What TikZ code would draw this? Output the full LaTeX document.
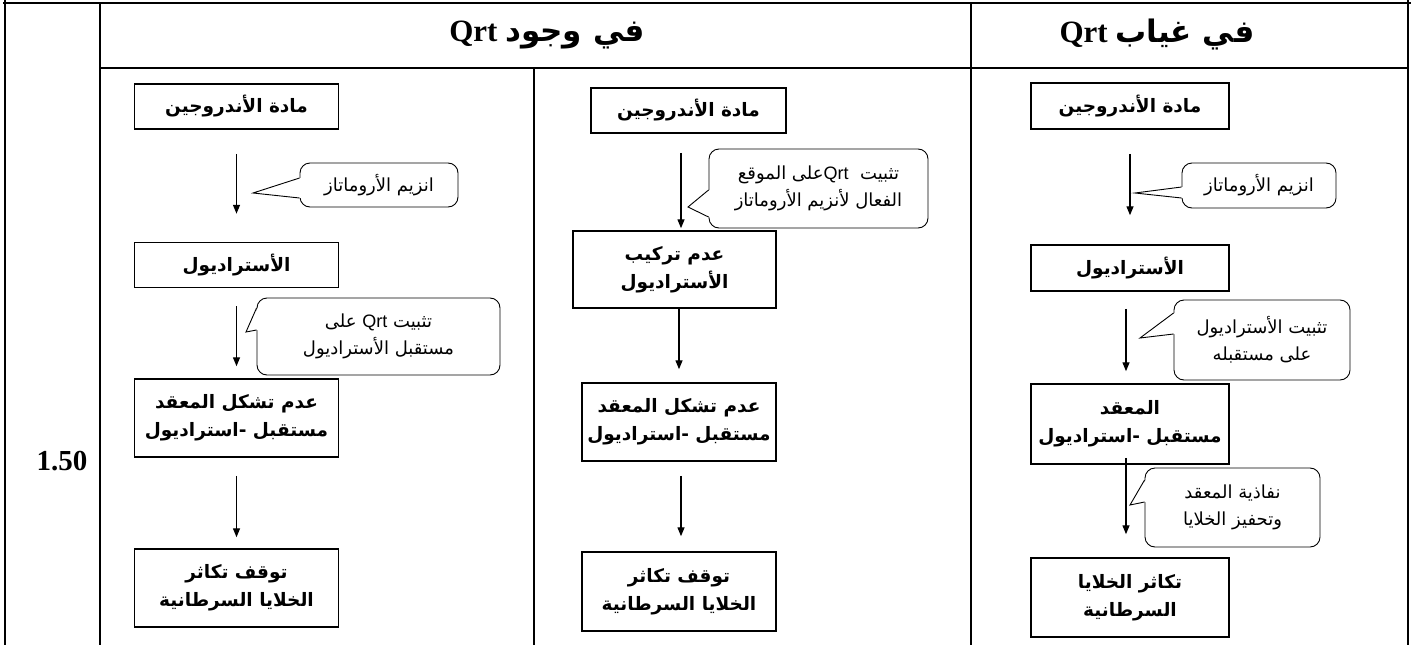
\documentclass[tikz,border=0pt]{standalone}
\usepackage{fontspec}
\setmainfont{Liberation Serif}
\newfontfamily\arabicfont[Script=Arabic]{DejaVu Sans}
\newfontfamily\lsans{Liberation Sans}
\TeXXeTstate=1
\usetikzlibrary{arrows.meta}

\newcommand{\ar}[1]{\beginR #1\endR}

\tikzset{
  rule/.style={line width=2.6pt},
  head/.style={font=\bfseries\fontsize{31pt}{34pt}\selectfont},
  grade/.style={font=\bfseries\fontsize{29pt}{32pt}\selectfont},
  box/.style={draw, line width=1.5pt, minimum width=204pt, minimum height=45pt, inner sep=1pt, align=center,
    font=\arabicfont\bfseries\fontsize{18.5pt}{28pt}\selectfont},
  tallbox/.style={box, minimum height=78pt},
  note/.style={draw, line width=0.9pt, rounded corners=10pt, inner sep=1pt, align=center,
    font=\arabicfont\fontsize{18pt}{27pt}\selectfont},
  notepen/.style={line width=0.9pt, line join=miter},
  arr/.style={-{Triangle[length=9pt,width=7pt]}, line width=1.4pt}
}

\begin{document}
\begin{tikzpicture}[x=1pt,y=-1pt]
	\useasboundingbox (0,0) rectangle (1419,645);
	% table frame
	\draw[rule] (5,0) -- (5,645);
	\draw[rule] (3,3) -- (1411,3);
	\draw[rule] (100,3) -- (100,645);
	\draw[rule] (971,3) -- (971,645);
	\draw[rule] (1408,0) -- (1408,645);
	\draw[rule] (100,68) -- (1408,68);
	\draw[rule] (534,68) -- (534,645);
	\node[head] (hWith) at (547,35) {\ar{{\arabicfont في وجود} Qrt}};
	\node[head] (hWithout) at (1157,35) {\ar{{\arabicfont في غياب} Qrt}};
	\node[grade] (score) at (62,461) {1.50};

	% with Qrt, first way
	\node[box] (L1) at (236.5,106.5) {\ar{مادة الأندروجين}};
	\node[box] (L2) at (236.5,265) {\ar{الأستراديول}};
	\node[tallbox] (L3) at (236.5,418) {\ar{عدم تشكل المعقد}\\\ar{مستقبل -استراديول}};
	\node[tallbox] (L4) at (236.5,588) {\ar{توقف تكاثر}\\\ar{الخلايا السرطانية}};
	\node[note, minimum width=158pt, minimum height=44pt] (cL1) at (379,185) {\ar{انزيم الأروماتاز}};
	\node[note, minimum width=243pt, minimum height=77pt] (cL2) at (378.5,336.5) {\ar{تثبيت {\lsans Qrt} على}\\\ar{مستقبل الأستراديول}};
	\coordinate (cL1-tip) at (253,193);
	\coordinate (cL2-tip) at (246,332);

	% with Qrt, second way
	\node[box, minimum width=195pt] (M1) at (688.5,110.5) {\ar{مادة الأندروجين}};
	\node[tallbox, minimum width=203pt, minimum height=77pt] (M2) at (674.5,269.5) {\ar{عدم تركيب}\\\ar{الأستراديول}};
	\node[tallbox, minimum width=194pt] (M3) at (679,422) {\ar{عدم تشكل المعقد}\\\ar{مستقبل -استراديول}};
	\node[tallbox, minimum width=194pt, minimum height=79pt] (M4) at (679,591.5) {\ar{توقف تكاثر}\\\ar{الخلايا السرطانية}};
	\node[note, minimum width=219pt, minimum height=79pt] (cM) at (818.5,188.5) {\ar{تثبيت \ {\lsans Qrt}على الموقع}\\\ar{الفعال لأنزيم الأروماتاز}};
	\coordinate (cM-tip) at (688,207);

	% without Qrt
	\node[box, minimum width=198pt, minimum height=46pt] (R1) at (1130,106) {\ar{مادة الأندروجين}};
	\node[box, minimum width=198pt, minimum height=46pt] (R2) at (1130,268) {\ar{الأستراديول}};
	\node[tallbox, minimum width=198pt, minimum height=80pt] (R3) at (1130,424) {\ar{المعقد}\\\ar{مستقبل -استراديول}};
	\node[tallbox, minimum width=198pt, minimum height=79pt] (R4) at (1130,597.5) {\ar{تكاثر الخلايا}\\\ar{السرطانية}};
	\node[note, minimum width=154pt, minimum height=45pt] (cR0) at (1259,185.5) {\ar{انزيم الأروماتاز}};
	\node[note, minimum width=176pt, minimum height=80pt] (cR1) at (1262,340) {\ar{تثبيت الأستراديول}\\\ar{على مستقبله}};
	\node[note, minimum width=175pt, minimum height=79pt] (cR2) at (1232.5,507.5) {\ar{نفاذية المعقد}\\\ar{وتحفيز الخلايا}};
	\coordinate (cR0-tip) at (1135,193);
	\coordinate (cR1-tip) at (1140,338);
	\coordinate (cR2-tip) at (1130,505);

	% callout pointers
	\foreach \cn/\a/\b in {cL1/7/-13, cL2/28.5/6.5, cM/-1.5/-28.5, cR0/-1.5/-12.5, cR1/27/6, cR2/27.5/5.5}{
		\fill[white] ([xshift=1.2pt,yshift=\a pt]\cn.west) -- (\cn-tip) -- ([xshift=1.2pt,yshift=\b pt]\cn.west) -- cycle;
		\draw[notepen] ([yshift=\a pt]\cn.west) -- (\cn-tip) -- ([yshift=\b pt]\cn.west);
	}

	% arrows
	\draw[arr, shorten <=24pt, shorten >=28pt] (L1) -- (L2);
	\draw[arr, shorten <=18pt, shorten >=12pt] (L2) -- (L3);
	\draw[arr, shorten <=18pt, shorten >=11pt] (L3) -- (L4);
	\draw[arr, shorten <=19pt, shorten >=2pt] ([xshift=-7.5pt]M1.south) -- ([xshift=6.5pt]M2.north);
	\draw[arr, shorten >=13pt] ([xshift=4.5pt]M2.south) -- (M3.north);
	\draw[arr, shorten <=14pt, shorten >=15pt] ([xshift=2pt]M3.south) -- ([xshift=2pt]M4.north);
	\draw[arr, shorten <=24pt, shorten >=29pt] (R1) -- (R2);
	\draw[arr, shorten <=17pt, shorten >=12pt] ([xshift=-4pt]R2.south) -- ([xshift=-4pt]R3.north);
	\draw[arr, shorten >=23pt] ([xshift=-4pt,yshift=7pt]R3.south) -- ([xshift=-4pt]R4.north);
\end{tikzpicture}
\end{document}
